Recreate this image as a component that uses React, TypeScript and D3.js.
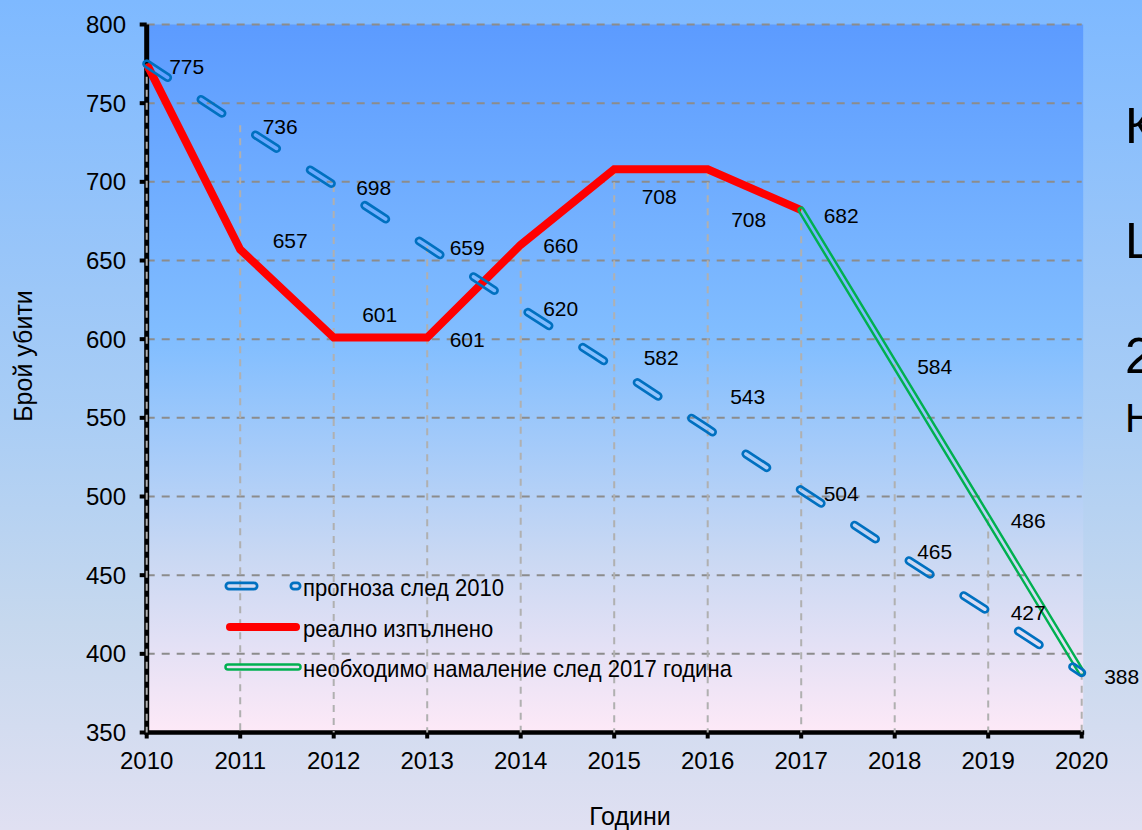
import React from "react";
import * as d3 from "d3";

// ---- data ----
const years = [2010, 2011, 2012, 2013, 2014, 2015, 2016, 2017, 2018, 2019, 2020];
const forecast = [775, 736, 698, 659, 620, 582, 543, 504, 465, 427, 388];
const actualYears = [2010, 2011, 2012, 2013, 2014, 2015, 2016, 2017];
const actual = [775, 657, 601, 601, 660, 708, 708, 682];
const requiredYears = [2017, 2018, 2019, 2020];
const required = [682, 584, 486, 388];
const yTicks = [350, 400, 450, 500, 550, 600, 650, 700, 750, 800];
const legendLabels = ["прогноза след 2010", "реално изпълнено", "необходимо намаление след 2017 година"];
const yTitle = "Брой убити";
const xTitle = "Години";
const sideLetters = ["К", "L", "2", "Н"];

// label nudges (layout only)
const forecastLabelDx = [40, 40, 40, 40, 40, 47, 40, 40, 40, 40, 40];
const forecastLabelDy = [3, 1, 2, 1, 1, -10, -32, 3, 0, 1, 4];
const actualLabelDx = [0, 50, 46, 40, 40, 45, 41, 40];
const actualLabelDy = [0, -9, -23, 2, 1, 27, 50, 5];
const requiredLabelDx = [0, 40, 40, 0];
const requiredLabelDy = [0, 2, 2, 0];

const W = 1142;
const H = 830;
const FONT = "'Liberation Sans', Arial, sans-serif";

export default function App() {
  const x = d3.scaleLinear().domain([2010, 2020]).range([146.7, 1081.7]);
  const y = d3.scaleLinear().domain([350, 800]).range([732.5, 24.5]);
  const line = d3
    .line<[number, number]>()
    .x((d) => x(d[0]))
    .y((d) => y(d[1]));

  const fPath = line(years.map((yr, i) => [yr, forecast[i]]))!;
  const aPath = line(actualYears.map((yr, i) => [yr, actual[i]]))!;
  const rPath = line(requiredYears.map((yr, i) => [yr, required[i]]))!;

  // drop line tops: max of any series at each year
  const dropTop = years.map((yr, i) => {
    const vals = [forecast[i]];
    const ai = actualYears.indexOf(yr);
    if (ai >= 0) vals.push(actual[ai]);
    const ri = requiredYears.indexOf(yr);
    if (ri >= 0) vals.push(required[ri]);
    return d3.max(vals)!;
  });

  const x0 = x(2010);
  const x1 = x(2020);
  const yTop = y(800);
  const yBot = y(350);

  const dash = "25 40";
  const legendY = [586, 627, 667];
  const lx0 = 229;
  const lx1 = 297;

  const fOuter = 9;
  const fInner = 3.6;
  const gOuter = 7.5;
  const gInner = 2.6;

  return (
    <svg
      width={W}
      height={H}
      style={{ position: "absolute", left: 0, top: 0, display: "block" }}
      xmlns="http://www.w3.org/2000/svg"
    >
      <defs>
        <linearGradient id="outerBg" x1="0" y1="0" x2="0" y2="1">
          <stop offset="0" stopColor="#7eb9ff" />
          <stop offset="0.5" stopColor="#a9cdf5" />
          <stop offset="0.75" stopColor="#c6d8ee" />
          <stop offset="1" stopColor="#e0e0f2" />
        </linearGradient>
        <linearGradient id="plotBg" gradientUnits="userSpaceOnUse" x1="0" y1={yTop} x2="0" y2={yBot}>
          <stop offset="0" stopColor="#5c9bff" />
          <stop offset="0.45" stopColor="#82beff" />
          <stop offset="0.75" stopColor="#c9d8f3" />
          <stop offset="1" stopColor="#fde9f7" />
        </linearGradient>
        <mask id="fMask" maskUnits="userSpaceOnUse" x="0" y="0" width={W} height={H}>
          <path d={fPath} fill="none" stroke="white" strokeWidth={fOuter} strokeDasharray={dash} strokeLinecap="round" />
          <path d={fPath} fill="none" stroke="black" strokeWidth={fInner} strokeDasharray={dash} strokeLinecap="round" />
          <path
            d={`M${lx0},${legendY[0]}L${lx1},${legendY[0]}`}
            fill="none"
            stroke="white"
            strokeWidth={fOuter}
            strokeDasharray={dash}
            strokeLinecap="round"
          />
          <path
            d={`M${lx0},${legendY[0]}L${lx1},${legendY[0]}`}
            fill="none"
            stroke="black"
            strokeWidth={fInner}
            strokeDasharray={dash}
            strokeLinecap="round"
          />
        </mask>
        <mask id="gMask" maskUnits="userSpaceOnUse" x="0" y="0" width={W} height={H}>
          <path d={rPath} fill="none" stroke="white" strokeWidth={gOuter} strokeLinecap="round" />
          <path d={rPath} fill="none" stroke="black" strokeWidth={gInner} strokeLinecap="round" />
          <path d={`M${lx0 - 1},${legendY[2]}L${lx1 + 1},${legendY[2]}`} fill="none" stroke="white" strokeWidth={gOuter} strokeLinecap="round" />
          <path d={`M${lx0 - 1},${legendY[2]}L${lx1 + 1},${legendY[2]}`} fill="none" stroke="black" strokeWidth={gInner} strokeLinecap="round" />
        </mask>
      </defs>

      {/* backgrounds */}
      <rect x={0} y={0} width={W} height={H} fill="url(#outerBg)" />
      <rect x={x0} y={yTop} width={x1 - x0 + 1.5} height={yBot - yTop} fill="url(#plotBg)" />

      {/* side text (cut off at the right edge, as in the slide) */}
      <g fontFamily={FONT} fill="#000">
        <text x={1125} y={143} fontSize={50}>{sideLetters[0]}</text>
        <text x={1125} y={258} fontSize={50}>{sideLetters[1]}</text>
        <text x={1125} y={373} fontSize={50}>{sideLetters[2]}</text>
        <text x={1125} y={432} fontSize={40}>{sideLetters[3]}</text>
      </g>

      {/* horizontal gridlines */}
      <g stroke="#8c8c8c" strokeWidth={2} strokeDasharray="8 7">
        {yTicks
          .filter((t) => t !== 350)
          .map((t) => (
            <line key={t} x1={x0} x2={x1} y1={y(t)} y2={y(t)} />
          ))}
      </g>

      {/* axes */}
      <line x1={x0} x2={x0} y1={yTop} y2={yBot + 2} stroke="#000" strokeWidth={5} />
      <line x1={x0 - 2} x2={x1 + 2.5} y1={yBot} y2={yBot} stroke="#000" strokeWidth={4.5} />
      <g stroke="#000" strokeWidth={4}>
        {yTicks.map((t) => (
          <line key={t} x1={x0 - 7} x2={x0} y1={y(t)} y2={y(t)} />
        ))}
        {years.map((yr) => (
          <line key={yr} x1={x(yr)} x2={x(yr)} y1={yBot} y2={yBot + 6} />
        ))}
      </g>

      {/* drop lines */}
      <g stroke="#b0b0b0" strokeWidth={2} strokeDasharray="7 6">
        {years.map((yr, i) => (
          <line key={yr} x1={x(yr)} x2={x(yr)} y1={y(dropTop[i])} y2={yBot} />
        ))}
      </g>

      {/* tick labels */}
      <g fontFamily={FONT} fontSize={24} fill="#000">
        {yTicks.map((t) => (
          <text key={t} x={126} y={y(t)} dy="0.36em" textAnchor="end">
            {t}
          </text>
        ))}
        {years.map((yr) => (
          <text key={yr} x={x(yr)} y={769} textAnchor="middle">
            {yr}
          </text>
        ))}
      </g>

      {/* axis titles */}
      <text fontFamily={FONT} fontSize={25} textAnchor="middle" transform={`translate(32,356) rotate(-90)`}>
        {yTitle}
      </text>
      <text fontFamily={FONT} fontSize={25} textAnchor="middle" x={630} y={825}>
        {xTitle}
      </text>

      {/* series */}
      <path d={aPath} fill="none" stroke="#ff0000" strokeWidth={8} strokeLinejoin="miter" />
      <rect x={0} y={0} width={W} height={H} fill="#00b050" mask="url(#gMask)" />
      <rect x={0} y={0} width={W} height={H} fill="#0070c0" mask="url(#fMask)" />

      {/* legend */}
      <line x1={lx0 + 1} x2={lx1 - 1} y1={legendY[1]} y2={legendY[1]} stroke="#ff0000" strokeWidth={8} strokeLinecap="round" />
      <g fontFamily={FONT} fontSize={24} fill="#000">
        {legendLabels.map((l, i) => (
          <text key={l} transform={`translate(303,${legendY[i] + 10}) scale(0.92,1)`}>
            {l}
          </text>
        ))}
      </g>

      {/* data labels */}
      <g fontFamily={FONT} fontSize={21} fill="#000" textAnchor="middle">
        {years.map((yr, i) => (
          <text key={"f" + yr} x={x(yr) + forecastLabelDx[i]} y={y(forecast[i]) + forecastLabelDy[i]} dy="0.36em">
            {forecast[i]}
          </text>
        ))}
        {actualYears.map((yr, i) =>
          i === 0 ? null : (
            <text key={"a" + yr} x={x(yr) + actualLabelDx[i]} y={y(actual[i]) + actualLabelDy[i]} dy="0.36em">
              {actual[i]}
            </text>
          )
        )}
        {requiredYears.map((yr, i) =>
          i === 0 || i === requiredYears.length - 1 ? null : (
            <text key={"r" + yr} x={x(yr) + requiredLabelDx[i]} y={y(required[i]) + requiredLabelDy[i]} dy="0.36em">
              {required[i]}
            </text>
          )
        )}
      </g>
    </svg>
  );
}
